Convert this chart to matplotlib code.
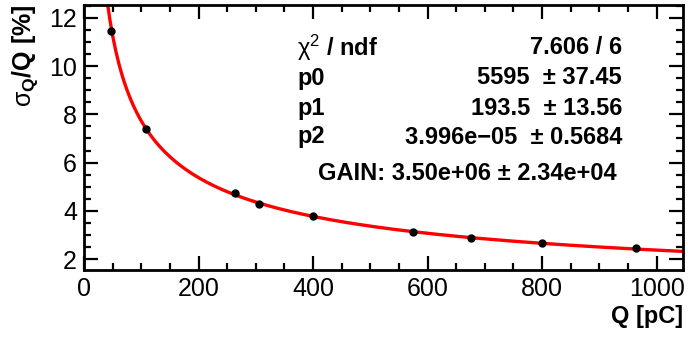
import numpy as np
import matplotlib
matplotlib.use("Agg")
import matplotlib.pyplot as plt
from matplotlib.ticker import MultipleLocator

plt.rcParams["font.family"] = ["Liberation Sans", "DejaVu Sans"]
plt.rcParams["mathtext.fontset"] = "custom"
plt.rcParams["mathtext.rm"] = "Liberation Sans"
plt.rcParams["mathtext.bf"] = "Liberation Sans:bold"
plt.rcParams["mathtext.it"] = "Liberation Sans:italic"

# measured points
charge = [47, 109, 263, 306, 400, 574, 676, 800, 964]
resolution = [11.45, 7.38, 4.73, 4.27, 3.80, 3.14, 2.89, 2.65, 2.46]

# fit parameters (from stats box)
p0 = 5595
p1 = 193.5
p2 = 3.996e-05
stats_labels = [r"$\mathrm{\chi}^{2}$ / ndf", "p0", "p1", "p2"]
stats_values = ["7.606 / 6", "5595  ± 37.45", "193.5  ± 13.56", "3.996e−05  ± 0.5684"]
gain_text = "GAIN: 3.50e+06 ± 2.34e+04"

fig = plt.figure(figsize=(6.88, 3.38), dpi=100)
ax = fig.add_axes([84 / 688, 1 - 270 / 338, 599 / 688, 265 / 338])

qfit = np.linspace(30, 1046, 200)
fit = np.sqrt(p0 / qfit + (p1 / qfit) ** 2 + p2 ** 2)
ax.plot(qfit, fit, color="#ff0000", lw=2.4, zorder=2)
ax.plot(charge, resolution, "o", color="black", ms=5, zorder=3)

ax.set_xlim(0, 1046)
ax.set_ylim(1.55, 12.53)
ax.xaxis.set_major_locator(MultipleLocator(200))
ax.xaxis.set_minor_locator(MultipleLocator(50))
ax.yaxis.set_major_locator(MultipleLocator(2))
ax.yaxis.set_minor_locator(MultipleLocator(0.5))
ax.tick_params(which="both", direction="in", top=True, right=True, width=1.6,
               labelsize=18)
ax.tick_params(axis="x", pad=5)
ax.tick_params(axis="y", pad=5)
ax.tick_params(which="major", length=10)
ax.tick_params(which="minor", length=5)
for s in ax.spines.values():
    s.set_linewidth(2)

fig.text(683 / 688, 1 - 316 / 338, "Q [pC]", ha="right", va="center",
         fontsize=17, fontweight="bold")
fig.text(25 / 688, 1 - 4 / 338, r"$\mathrm{\sigma}_{\mathbf{Q}}$/Q [%]", ha="center", va="top",
         rotation=90, fontsize=18, fontweight="bold")

rows = [48, 78, 108, 137]
for lab, val, y in zip(stats_labels, stats_values, rows):
    fig.text(297 / 688, 1 - y / 338, lab, ha="left", va="center", fontsize=17, fontweight="bold")
    fig.text(622 / 688, 1 - y / 338, val, ha="right", va="center", fontsize=17, fontweight="bold")
fig.text(617 / 688, 1 - 174 / 338, gain_text, ha="right", va="center", fontsize=17, fontweight="bold")

fig.savefig("out.png", dpi=100)
